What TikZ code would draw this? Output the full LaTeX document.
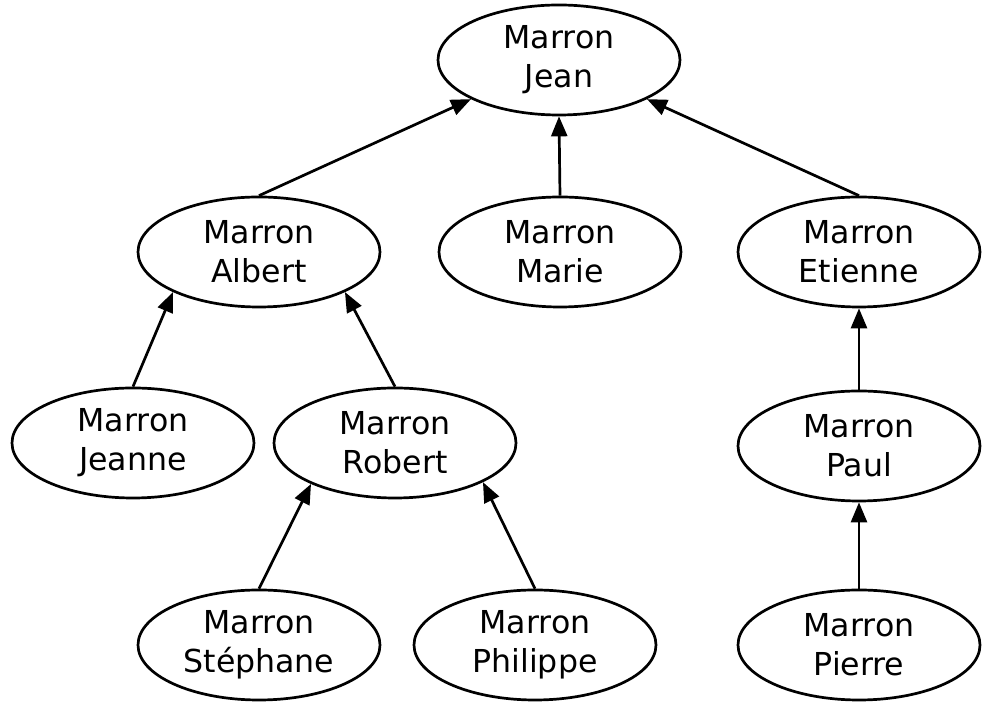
\documentclass[tikz,border=0pt]{standalone}
\usepackage{fontspec}
\setmainfont{DejaVu Sans}
\usetikzlibrary{shapes.geometric, arrows.meta}

\begin{document}
\begin{tikzpicture}[x = 0.5pt, y = -0.5pt, > = {Triangle[length = 10pt, width = 8pt]},
	person/.style = {ellipse, draw, line width = 1.35pt, minimum width = 121pt, minimum height = 55pt,
		inner sep = 0pt, align = center, font = \fontsize{15.8}{19.5}\selectfont},
	link/.style = {->, line width = 1.35pt}]

	% Page frame

	\useasboundingbox (0, 0) rectangle (982, 704);

	% Draw people, one row per generation

	\node [person] (jean) at (559, 60) {Marron\\Jean};

	\node [person] (albert) at (259, 252) {Marron\\Albert};
	\node [person] (marie) at (560, 252) {Marron\\Marie};
	\node [person] (etienne) at (859, 252) {Marron\\Etienne};

	\node [person] (jeanne) at (133, 443) {Marron\\Jeanne};
	\node [person] (robert) at (395, 443) {Marron\\Robert};
	\node [person] (paul) at (859, 446) {Marron\\Paul};

	\node [person] (stephane) at (259, 645) {Marron\\Stéphane};
	\node [person] (philippe) at (535, 645) {Marron\\Philippe};
	\node [person] (pierre) at (859, 645) {Marron\\Pierre};

	% Draw links, child to parent

	\draw [link] (albert.north) -- (jean.204);
	\draw [link] (marie.north) -- (jean.south);
	\draw [link] (etienne.north) -- (jean.-24);

	\draw [link] (jeanne.north) -- (albert.205);
	\draw [link] (robert.north) -- (albert.-25);

	\draw [link] (stephane.north) -- (robert.206);
	\draw [link] (philippe.north) -- (robert.-24);

	\draw [link] (paul.north) -- (etienne.south);
	\draw [link] (pierre.north) -- (paul.south);

\end{tikzpicture}
\end{document}
